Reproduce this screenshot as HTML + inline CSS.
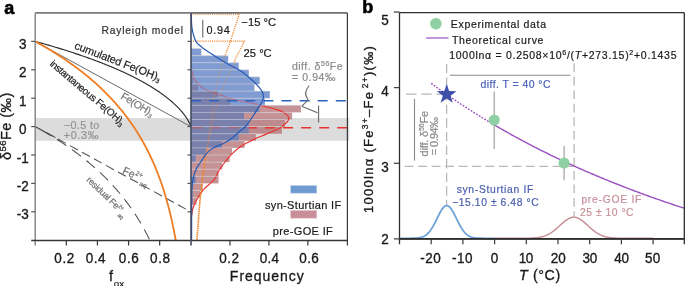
<!DOCTYPE html>
<html><head><meta charset="utf-8"><style>
html,body{margin:0;padding:0;background:#fff;}
svg{display:block;will-change:transform;}
text{font-family:"Liberation Sans", sans-serif;}
</style></head><body>
<svg width="685" height="286" viewBox="0 0 685 286" font-family='"Liberation Sans", sans-serif'>
<rect width="685" height="286" fill="#fff"/>
<rect x="35.2" y="118.08" width="314.00" height="22.72" fill="#dcdcdc"/>
<path d="M35.20,41.40 L190.80,126.60" stroke="#6a6a6a" stroke-width="1" fill="none"/>
<path d="M35.20,41.40 L35.98,41.61 L36.76,41.83 L37.53,42.04 L38.31,42.26 L39.09,42.47 L39.87,42.69 L40.65,42.91 L41.42,43.13 L42.20,43.35 L42.98,43.57 L43.76,43.79 L44.54,44.01 L45.31,44.23 L46.09,44.45 L46.87,44.68 L47.65,44.90 L48.43,45.13 L49.20,45.35 L49.98,45.58 L50.76,45.81 L51.54,46.04 L52.32,46.27 L53.09,46.50 L53.87,46.73 L54.65,46.96 L55.43,47.19 L56.21,47.43 L56.98,47.66 L57.76,47.90 L58.54,48.14 L59.32,48.37 L60.10,48.61 L60.87,48.85 L61.65,49.09 L62.43,49.33 L63.21,49.57 L63.99,49.82 L64.76,50.06 L65.54,50.31 L66.32,50.55 L67.10,50.80 L67.88,51.05 L68.65,51.30 L69.43,51.55 L70.21,51.80 L70.99,52.05 L71.77,52.30 L72.54,52.56 L73.32,52.81 L74.10,53.07 L74.88,53.33 L75.66,53.58 L76.43,53.84 L77.21,54.10 L77.99,54.37 L78.77,54.63 L79.55,54.89 L80.32,55.16 L81.10,55.43 L81.88,55.69 L82.66,55.96 L83.44,56.23 L84.21,56.50 L84.99,56.78 L85.77,57.05 L86.55,57.32 L87.33,57.60 L88.10,57.88 L88.88,58.16 L89.66,58.44 L90.44,58.72 L91.22,59.00 L91.99,59.29 L92.77,59.57 L93.55,59.86 L94.33,60.15 L95.11,60.44 L95.88,60.73 L96.66,61.02 L97.44,61.32 L98.22,61.61 L99.00,61.91 L99.77,62.21 L100.55,62.51 L101.33,62.81 L102.11,63.11 L102.89,63.42 L103.66,63.73 L104.44,64.04 L105.22,64.35 L106.00,64.66 L106.78,64.97 L107.55,65.29 L108.33,65.60 L109.11,65.92 L109.89,66.24 L110.67,66.57 L111.44,66.89 L112.22,67.22 L113.00,67.54 L113.78,67.87 L114.56,68.21 L115.33,68.54 L116.11,68.88 L116.89,69.21 L117.67,69.55 L118.45,69.90 L119.22,70.24 L120.00,70.59 L120.78,70.94 L121.56,71.29 L122.34,71.64 L123.11,72.00 L123.89,72.35 L124.67,72.72 L125.45,73.08 L126.23,73.44 L127.00,73.81 L127.78,74.18 L128.56,74.55 L129.34,74.93 L130.12,75.31 L130.89,75.69 L131.67,76.07 L132.45,76.46 L133.23,76.85 L134.01,77.24 L134.78,77.64 L135.56,78.04 L136.34,78.44 L137.12,78.84 L137.90,79.25 L138.67,79.66 L139.45,80.08 L140.23,80.49 L141.01,80.92 L141.79,81.34 L142.56,81.77 L143.34,82.20 L144.12,82.64 L144.90,83.08 L145.68,83.52 L146.45,83.97 L147.23,84.42 L148.01,84.88 L148.79,85.34 L149.57,85.81 L150.34,86.28 L151.12,86.75 L151.90,87.23 L152.68,87.71 L153.46,88.20 L154.23,88.70 L155.01,89.20 L155.79,89.70 L156.57,90.21 L157.35,90.73 L158.12,91.25 L158.90,91.78 L159.68,92.32 L160.46,92.86 L161.24,93.41 L162.01,93.97 L162.79,94.53 L163.57,95.10 L164.35,95.68 L165.13,96.26 L165.90,96.86 L166.68,97.46 L167.46,98.08 L168.24,98.70 L169.02,99.33 L169.79,99.97 L170.57,100.63 L171.35,101.29 L172.13,101.97 L172.91,102.65 L173.68,103.36 L174.46,104.07 L175.24,104.80 L176.02,105.55 L176.80,106.31 L177.57,107.09 L178.35,107.89 L179.13,108.71 L179.91,109.55 L180.69,110.41 L181.46,111.30 L182.24,112.22 L183.02,113.17 L183.80,114.15 L184.58,115.17 L185.35,116.24 L186.13,117.36 L186.91,118.54 L187.69,119.80 L188.47,121.15 L189.24,122.64 L190.02,124.33 L190.80,126.60" stroke="#2b2b2b" stroke-width="1.15" fill="none"/>
<path d="M35.20,126.60 L190.80,211.80" stroke="#505050" stroke-width="1.05" fill="none" stroke-dasharray="9,4.68" stroke-dashoffset="1.38"/>
<path d="M35.2,126.6 L55.7,137.6" stroke="#505050" stroke-width="0.9" fill="none"/>
<path d="M35.20,126.60 L35.82,126.94 L36.44,127.28 L37.07,127.63 L37.69,127.97 L38.31,128.32 L38.93,128.67 L39.56,129.02 L40.18,129.37 L40.80,129.72 L41.42,130.08 L42.05,130.43 L42.67,130.79 L43.29,131.15 L43.91,131.51 L44.54,131.87 L45.16,132.24 L45.78,132.60 L46.40,132.97 L47.03,133.33 L47.65,133.70 L48.27,134.08 L48.89,134.45 L49.52,134.82 L50.14,135.20 L50.76,135.58 L51.38,135.96 L52.00,136.34 L52.63,136.72 L53.25,137.11 L53.87,137.49 L54.49,137.88 L55.12,138.27 L55.74,138.66 L56.36,139.05 L56.98,139.45 L57.61,139.85 L58.23,140.25 L58.85,140.65 L59.47,141.05 L60.10,141.45 L60.72,141.86 L61.34,142.27 L61.96,142.68 L62.59,143.09 L63.21,143.51 L63.83,143.92 L64.45,144.34 L65.08,144.76 L65.70,145.19 L66.32,145.61 L66.94,146.04 L67.56,146.47 L68.19,146.90 L68.81,147.33 L69.43,147.77 L70.05,148.21 L70.68,148.65 L71.30,149.09 L71.92,149.53 L72.54,149.98 L73.17,150.43 L73.79,150.88 L74.41,151.34 L75.03,151.79 L75.66,152.25 L76.28,152.72 L76.90,153.18 L77.52,153.65 L78.15,154.12 L78.77,154.59 L79.39,155.06 L80.01,155.54 L80.64,156.02 L81.26,156.50 L81.88,156.99 L82.50,157.48 L83.12,157.97 L83.75,158.46 L84.37,158.96 L84.99,159.46 L85.61,159.96 L86.24,160.47 L86.86,160.98 L87.48,161.49 L88.10,162.00 L88.73,162.52 L89.35,163.04 L89.97,163.57 L90.59,164.09 L91.22,164.62 L91.84,165.16 L92.46,165.70 L93.08,166.24 L93.71,166.78 L94.33,167.33 L94.95,167.88 L95.57,168.44 L96.20,168.99 L96.82,169.56 L97.44,170.12 L98.06,170.69 L98.68,171.27 L99.31,171.84 L99.93,172.43 L100.55,173.01 L101.17,173.60 L101.80,174.19 L102.42,174.79 L103.04,175.39 L103.66,176.00 L104.29,176.61 L104.91,177.23 L105.53,177.85 L106.15,178.47 L106.78,179.10 L107.40,179.73 L108.02,180.37 L108.64,181.01 L109.27,181.66 L109.89,182.31 L110.51,182.97 L111.13,183.64 L111.76,184.30 L112.38,184.98 L113.00,185.66 L113.62,186.34 L114.24,187.03 L114.87,187.73 L115.49,188.43 L116.11,189.13 L116.73,189.85 L117.36,190.57 L117.98,191.29 L118.60,192.02 L119.22,192.76 L119.85,193.50 L120.47,194.26 L121.09,195.01 L121.71,195.78 L122.34,196.55 L122.96,197.33 L123.58,198.11 L124.20,198.90 L124.83,199.70 L125.45,200.51 L126.07,201.33 L126.69,202.15 L127.32,202.98 L127.94,203.82 L128.56,204.67 L129.18,205.52 L129.80,206.39 L130.43,207.26 L131.05,208.15 L131.67,209.04 L132.29,209.94 L132.92,210.85 L133.54,211.77 L134.16,212.70 L134.78,213.64 L135.41,214.60 L136.03,215.56 L136.65,216.53 L137.27,217.52 L137.90,218.51 L138.52,219.52 L139.14,220.54 L139.76,221.58 L140.39,222.62 L141.01,223.68 L141.63,224.75 L142.25,225.84 L142.88,226.94 L143.50,228.05 L144.12,229.18 L144.74,230.32 L145.36,231.48 L145.99,232.66 L146.61,233.85 L147.23,235.06 L147.85,236.28 L148.48,237.53 L149.10,238.79 L149.72,240.07 L149.78,240.20" stroke="#505050" stroke-width="1.05" fill="none" stroke-dasharray="11.2,6.9" stroke-dashoffset="10.9"/>
<path d="M35.20,41.40 L35.94,41.81 L36.68,42.21 L37.42,42.62 L38.16,43.03 L38.90,43.45 L39.63,43.86 L40.37,44.28 L41.11,44.70 L41.85,45.12 L42.59,45.55 L43.33,45.97 L44.07,46.40 L44.81,46.83 L45.55,47.26 L46.29,47.70 L47.03,48.13 L47.76,48.57 L48.50,49.01 L49.24,49.46 L49.98,49.90 L50.72,50.35 L51.46,50.80 L52.20,51.26 L52.94,51.71 L53.68,52.17 L54.42,52.63 L55.16,53.09 L55.89,53.56 L56.63,54.03 L57.37,54.50 L58.11,54.97 L58.85,55.45 L59.59,55.93 L60.33,56.41 L61.07,56.89 L61.81,57.38 L62.55,57.87 L63.29,58.36 L64.02,58.86 L64.76,59.35 L65.50,59.85 L66.24,60.36 L66.98,60.87 L67.72,61.38 L68.46,61.89 L69.20,62.41 L69.94,62.92 L70.68,63.45 L71.42,63.97 L72.16,64.50 L72.89,65.03 L73.63,65.57 L74.37,66.11 L75.11,66.65 L75.85,67.20 L76.59,67.75 L77.33,68.30 L78.07,68.86 L78.81,69.42 L79.55,69.98 L80.29,70.55 L81.02,71.12 L81.76,71.70 L82.50,72.28 L83.24,72.86 L83.98,73.45 L84.72,74.04 L85.46,74.64 L86.20,75.24 L86.94,75.84 L87.68,76.45 L88.42,77.06 L89.15,77.68 L89.89,78.30 L90.63,78.93 L91.37,79.56 L92.11,80.19 L92.85,80.83 L93.59,81.48 L94.33,82.13 L95.07,82.78 L95.81,83.44 L96.55,84.11 L97.28,84.78 L98.02,85.46 L98.76,86.14 L99.50,86.82 L100.24,87.52 L100.98,88.22 L101.72,88.92 L102.46,89.63 L103.20,90.35 L103.94,91.07 L104.68,91.80 L105.41,92.53 L106.15,93.27 L106.89,94.02 L107.63,94.77 L108.37,95.53 L109.11,96.30 L109.85,97.07 L110.59,97.86 L111.33,98.64 L112.07,99.44 L112.81,100.24 L113.54,101.05 L114.28,101.87 L115.02,102.70 L115.76,103.54 L116.50,104.38 L117.24,105.23 L117.98,106.09 L118.72,106.96 L119.46,107.84 L120.20,108.73 L120.94,109.62 L121.67,110.53 L122.41,111.44 L123.15,112.37 L123.89,113.31 L124.63,114.25 L125.37,115.21 L126.11,116.18 L126.85,117.16 L127.59,118.15 L128.33,119.15 L129.07,120.16 L129.80,121.19 L130.54,122.23 L131.28,123.28 L132.02,124.34 L132.76,125.42 L133.50,126.51 L134.24,127.62 L134.98,128.74 L135.72,129.88 L136.46,131.03 L137.20,132.19 L137.93,133.38 L138.67,134.58 L139.41,135.79 L140.15,137.03 L140.89,138.28 L141.63,139.55 L142.37,140.84 L143.11,142.15 L143.85,143.48 L144.59,144.83 L145.33,146.21 L146.06,147.60 L146.80,149.02 L147.54,150.47 L148.28,151.94 L149.02,153.43 L149.76,154.95 L150.50,156.50 L151.24,158.08 L151.98,159.68 L152.72,161.32 L153.46,162.99 L154.20,164.69 L154.93,166.43 L155.67,168.21 L156.41,170.02 L157.15,171.87 L157.89,173.76 L158.63,175.70 L159.37,177.68 L160.11,179.70 L160.85,181.78 L161.59,183.91 L162.33,186.09 L163.06,188.33 L163.80,190.63 L164.54,193.00 L165.28,195.43 L166.02,197.94 L166.76,200.52 L167.50,203.18 L168.24,205.92 L168.98,208.76 L169.72,211.70 L170.46,214.74 L171.19,217.89 L171.93,221.16 L172.67,224.57 L173.41,228.12 L174.15,231.82 L174.89,235.68 L175.63,239.74 L175.71,240.20" stroke="#f07d22" stroke-width="1.8" fill="none"/>
<path d="M35.2,12.9 H190.8" stroke="#7a7a7a" stroke-width="1.6" fill="none"/>
<path d="M35.2,12.9 V245.5" stroke="#8a8a8a" stroke-width="1.5" fill="none"/>
<path d="M31.200000000000003,240.5 H190.8" stroke="#353535" stroke-width="1.3" fill="none"/>
<path d="M31.200000000000003,41.40 H35.2" stroke="#555" stroke-width="1.2"/>
<path d="M31.200000000000003,69.80 H35.2" stroke="#555" stroke-width="1.2"/>
<path d="M31.200000000000003,98.20 H35.2" stroke="#555" stroke-width="1.2"/>
<path d="M31.200000000000003,126.60 H35.2" stroke="#555" stroke-width="1.2"/>
<path d="M31.200000000000003,155.00 H35.2" stroke="#555" stroke-width="1.2"/>
<path d="M31.200000000000003,183.40 H35.2" stroke="#555" stroke-width="1.2"/>
<path d="M31.200000000000003,211.80 H35.2" stroke="#555" stroke-width="1.2"/>
<path d="M66.32,240.5 V245.5" stroke="#353535" stroke-width="1.2"/>
<path d="M97.44,240.5 V245.5" stroke="#353535" stroke-width="1.2"/>
<path d="M128.56,240.5 V245.5" stroke="#353535" stroke-width="1.2"/>
<path d="M159.68,240.5 V245.5" stroke="#353535" stroke-width="1.2"/>
<g opacity="0.78"><rect x="191.0" y="76.90" width="2.30" height="7.10" fill="#b57579"/><rect x="191.0" y="84.00" width="7.00" height="7.10" fill="#b57579"/><rect x="191.0" y="91.10" width="27.00" height="7.10" fill="#b57579"/><rect x="191.0" y="98.20" width="39.20" height="7.10" fill="#b57579"/><rect x="191.0" y="105.30" width="109.90" height="7.10" fill="#b57579"/><rect x="191.0" y="112.40" width="101.10" height="7.10" fill="#b57579"/><rect x="191.0" y="119.50" width="94.20" height="7.10" fill="#b57579"/><rect x="191.0" y="126.60" width="91.00" height="7.10" fill="#b57579"/><rect x="191.0" y="133.70" width="64.80" height="7.10" fill="#b57579"/><rect x="191.0" y="140.80" width="53.60" height="7.10" fill="#b57579"/><rect x="191.0" y="147.90" width="41.00" height="7.10" fill="#b57579"/><rect x="191.0" y="155.00" width="38.60" height="7.10" fill="#b57579"/><rect x="191.0" y="162.10" width="31.30" height="7.10" fill="#b57579"/><rect x="191.0" y="169.20" width="27.60" height="7.10" fill="#b57579"/><rect x="191.0" y="176.30" width="27.60" height="7.10" fill="#b57579"/><rect x="191.0" y="183.40" width="11.70" height="7.10" fill="#b57579"/><rect x="191.0" y="190.50" width="9.20" height="7.10" fill="#b57579"/><rect x="191.0" y="197.60" width="5.50" height="7.10" fill="#b57579"/></g>
<g opacity="1.0">
<path d="M191.80,70.00 C191.87,70.33 191.90,70.73 192.20,72.00 C192.50,73.27 192.90,75.97 193.60,77.60 C194.30,79.23 195.00,80.17 196.40,81.80 C197.80,83.43 199.90,85.88 202.00,87.40 C204.10,88.92 206.67,89.85 209.00,90.90 C211.33,91.95 213.67,92.88 216.00,93.70 C218.33,94.52 221.00,95.10 223.00,95.80 C225.00,96.50 225.17,97.07 228.00,97.90 C230.83,98.73 235.72,99.85 240.00,100.80 C244.28,101.75 249.95,102.75 253.70,103.60 C257.45,104.45 259.58,105.17 262.50,105.90 C265.42,106.63 268.28,107.22 271.20,108.00 C274.12,108.78 277.52,109.58 280.00,110.60 C282.48,111.62 284.65,112.93 286.10,114.10 C287.55,115.27 288.42,116.43 288.70,117.60 C288.98,118.77 288.53,119.93 287.80,121.10 C287.07,122.27 285.60,123.43 284.30,124.60 C283.00,125.77 281.55,127.17 280.00,128.10 C278.45,129.03 277.47,129.12 275.00,130.20 C272.53,131.28 268.28,133.28 265.20,134.60 C262.12,135.92 259.42,136.78 256.50,138.10 C253.58,139.42 250.62,140.90 247.70,142.50 C244.78,144.10 241.62,145.82 239.00,147.70 C236.38,149.58 234.00,151.83 232.00,153.80 C230.00,155.77 228.53,157.63 227.00,159.50 C225.47,161.37 224.20,163.03 222.80,165.00 C221.40,166.97 219.92,169.03 218.60,171.30 C217.28,173.57 216.38,176.50 214.90,178.60 C213.42,180.70 211.45,182.23 209.70,183.90 C207.95,185.57 205.92,186.98 204.40,188.60 C202.88,190.22 201.77,191.95 200.60,193.60 C199.43,195.25 198.40,196.77 197.40,198.50 C196.40,200.23 195.40,202.17 194.60,204.00 C193.80,205.83 193.10,207.50 192.60,209.50 C192.10,211.50 191.77,214.92 191.60,216.00" stroke="#e8302c" stroke-width="1.15" fill="none"/>
<path d="M191.0,127.8 H347.4" stroke="#e8302c" stroke-width="1.5" stroke-dasharray="10,8.1" stroke-dashoffset="-1.5"/>
<path d="M191.00,14.00 H239.30 L239.30,14.00 C238.43,16.67 235.57,25.50 234.10,30.00 C232.63,34.50 231.65,37.67 230.50,41.00 C229.35,44.33 228.42,46.83 227.20,50.00 C225.98,53.17 224.73,55.00 223.20,60.00 C221.67,65.00 219.60,73.33 218.00,80.00 C216.40,86.67 214.83,93.33 213.60,100.00 C212.37,106.67 211.48,113.33 210.60,120.00 C209.72,126.67 209.18,133.83 208.30,140.00 C207.42,146.17 206.23,151.17 205.30,157.00 C204.37,162.83 203.45,169.38 202.70,175.00 C201.95,180.62 201.37,185.70 200.80,190.70 C200.23,195.70 199.80,199.28 199.30,205.00 C198.80,210.72 198.25,219.17 197.80,225.00 C197.35,230.83 196.80,237.50 196.60,240.00" stroke="#f0842c" stroke-width="1.3" fill="none" stroke-dasharray="1.1,1.0"/>
<path d="M191.00,41.20 H244.40 L244.40,41.20 C243.58,42.83 241.02,48.03 239.50,51.00 C237.98,53.97 236.32,56.67 235.30,59.00 C234.28,61.33 234.95,61.50 233.40,65.00 C231.85,68.50 228.48,74.17 226.00,80.00 C223.52,85.83 220.70,93.33 218.50,100.00 C216.30,106.67 214.38,113.33 212.80,120.00 C211.22,126.67 210.17,133.83 209.00,140.00 C207.83,146.17 206.75,151.17 205.80,157.00 C204.85,162.83 204.03,169.38 203.30,175.00 C202.57,180.62 201.97,185.70 201.40,190.70 C200.83,195.70 200.40,199.28 199.90,205.00 C199.40,210.72 198.85,219.17 198.40,225.00 C197.95,230.83 197.40,237.50 197.20,240.00" stroke="#f0842c" stroke-width="1.3" fill="none" stroke-dasharray="1.1,1.0"/>
</g>
<defs><clipPath id="bclip"><rect x="191.0" y="48.50" width="10.30" height="7.10"/><rect x="191.0" y="55.60" width="37.20" height="7.10"/><rect x="191.0" y="62.70" width="47.70" height="7.10"/><rect x="191.0" y="69.80" width="57.80" height="7.10"/><rect x="191.0" y="76.90" width="68.70" height="7.10"/><rect x="191.0" y="84.00" width="63.40" height="7.10"/><rect x="191.0" y="91.10" width="78.80" height="7.10"/><rect x="191.0" y="98.20" width="73.90" height="7.10"/><rect x="191.0" y="105.30" width="68.30" height="7.10"/><rect x="191.0" y="112.40" width="53.00" height="7.10"/><rect x="191.0" y="119.50" width="57.80" height="7.10"/><rect x="191.0" y="126.60" width="57.80" height="7.10"/><rect x="191.0" y="133.70" width="47.70" height="7.10"/><rect x="191.0" y="140.80" width="31.00" height="7.10"/><rect x="191.0" y="147.90" width="15.20" height="7.10"/><rect x="191.0" y="155.00" width="4.60" height="7.10"/><rect x="191.0" y="176.30" width="4.60" height="7.10"/></clipPath></defs>
<rect x="191.0" y="48.50" width="10.30" height="7.10" fill="#809cd2"/><rect x="191.0" y="55.60" width="37.20" height="7.10" fill="#809cd2"/><rect x="191.0" y="62.70" width="47.70" height="7.10" fill="#809cd2"/><rect x="191.0" y="69.80" width="57.80" height="7.10" fill="#809cd2"/><rect x="191.0" y="76.90" width="68.70" height="7.10" fill="#809cd2"/><rect x="191.0" y="76.90" width="2.30" height="7.10" fill="#7a80ac"/><rect x="191.0" y="84.00" width="63.40" height="7.10" fill="#809cd2"/><rect x="191.0" y="84.00" width="7.00" height="7.10" fill="#7a80ac"/><rect x="191.0" y="91.10" width="78.80" height="7.10" fill="#809cd2"/><rect x="191.0" y="91.10" width="27.00" height="7.10" fill="#7a80ac"/><rect x="191.0" y="98.20" width="73.90" height="7.10" fill="#809cd2"/><rect x="191.0" y="98.20" width="39.20" height="7.10" fill="#7a80ac"/><rect x="191.0" y="105.30" width="68.30" height="7.10" fill="#809cd2"/><rect x="191.0" y="105.30" width="68.30" height="7.10" fill="#7a80ac"/><rect x="191.0" y="112.40" width="53.00" height="7.10" fill="#809cd2"/><rect x="191.0" y="112.40" width="53.00" height="7.10" fill="#7a80ac"/><rect x="191.0" y="119.50" width="57.80" height="7.10" fill="#809cd2"/><rect x="191.0" y="119.50" width="57.80" height="7.10" fill="#7a80ac"/><rect x="191.0" y="126.60" width="57.80" height="7.10" fill="#809cd2"/><rect x="191.0" y="126.60" width="57.80" height="7.10" fill="#7a80ac"/><rect x="191.0" y="133.70" width="47.70" height="7.10" fill="#809cd2"/><rect x="191.0" y="133.70" width="47.70" height="7.10" fill="#7a80ac"/><rect x="191.0" y="140.80" width="31.00" height="7.10" fill="#809cd2"/><rect x="191.0" y="140.80" width="31.00" height="7.10" fill="#7a80ac"/><rect x="191.0" y="147.90" width="15.20" height="7.10" fill="#809cd2"/><rect x="191.0" y="147.90" width="15.20" height="7.10" fill="#7a80ac"/><rect x="191.0" y="155.00" width="4.60" height="7.10" fill="#809cd2"/><rect x="191.0" y="155.00" width="4.60" height="7.10" fill="#7a80ac"/><rect x="191.0" y="176.30" width="4.60" height="7.10" fill="#809cd2"/><rect x="191.0" y="176.30" width="4.60" height="7.10" fill="#7a80ac"/>
<g opacity="0.42" clip-path="url(#bclip)">
<path d="M191.80,70.00 C191.87,70.33 191.90,70.73 192.20,72.00 C192.50,73.27 192.90,75.97 193.60,77.60 C194.30,79.23 195.00,80.17 196.40,81.80 C197.80,83.43 199.90,85.88 202.00,87.40 C204.10,88.92 206.67,89.85 209.00,90.90 C211.33,91.95 213.67,92.88 216.00,93.70 C218.33,94.52 221.00,95.10 223.00,95.80 C225.00,96.50 225.17,97.07 228.00,97.90 C230.83,98.73 235.72,99.85 240.00,100.80 C244.28,101.75 249.95,102.75 253.70,103.60 C257.45,104.45 259.58,105.17 262.50,105.90 C265.42,106.63 268.28,107.22 271.20,108.00 C274.12,108.78 277.52,109.58 280.00,110.60 C282.48,111.62 284.65,112.93 286.10,114.10 C287.55,115.27 288.42,116.43 288.70,117.60 C288.98,118.77 288.53,119.93 287.80,121.10 C287.07,122.27 285.60,123.43 284.30,124.60 C283.00,125.77 281.55,127.17 280.00,128.10 C278.45,129.03 277.47,129.12 275.00,130.20 C272.53,131.28 268.28,133.28 265.20,134.60 C262.12,135.92 259.42,136.78 256.50,138.10 C253.58,139.42 250.62,140.90 247.70,142.50 C244.78,144.10 241.62,145.82 239.00,147.70 C236.38,149.58 234.00,151.83 232.00,153.80 C230.00,155.77 228.53,157.63 227.00,159.50 C225.47,161.37 224.20,163.03 222.80,165.00 C221.40,166.97 219.92,169.03 218.60,171.30 C217.28,173.57 216.38,176.50 214.90,178.60 C213.42,180.70 211.45,182.23 209.70,183.90 C207.95,185.57 205.92,186.98 204.40,188.60 C202.88,190.22 201.77,191.95 200.60,193.60 C199.43,195.25 198.40,196.77 197.40,198.50 C196.40,200.23 195.40,202.17 194.60,204.00 C193.80,205.83 193.10,207.50 192.60,209.50 C192.10,211.50 191.77,214.92 191.60,216.00" stroke="#e8302c" stroke-width="1.15" fill="none"/>
<path d="M191.0,127.8 H347.4" stroke="#e8302c" stroke-width="1.5" stroke-dasharray="10,8.1" stroke-dashoffset="-1.5"/>
<path d="M191.00,14.00 H239.30 L239.30,14.00 C238.43,16.67 235.57,25.50 234.10,30.00 C232.63,34.50 231.65,37.67 230.50,41.00 C229.35,44.33 228.42,46.83 227.20,50.00 C225.98,53.17 224.73,55.00 223.20,60.00 C221.67,65.00 219.60,73.33 218.00,80.00 C216.40,86.67 214.83,93.33 213.60,100.00 C212.37,106.67 211.48,113.33 210.60,120.00 C209.72,126.67 209.18,133.83 208.30,140.00 C207.42,146.17 206.23,151.17 205.30,157.00 C204.37,162.83 203.45,169.38 202.70,175.00 C201.95,180.62 201.37,185.70 200.80,190.70 C200.23,195.70 199.80,199.28 199.30,205.00 C198.80,210.72 198.25,219.17 197.80,225.00 C197.35,230.83 196.80,237.50 196.60,240.00" stroke="#f0842c" stroke-width="1.3" fill="none" stroke-dasharray="1.1,1.0"/>
<path d="M191.00,41.20 H244.40 L244.40,41.20 C243.58,42.83 241.02,48.03 239.50,51.00 C237.98,53.97 236.32,56.67 235.30,59.00 C234.28,61.33 234.95,61.50 233.40,65.00 C231.85,68.50 228.48,74.17 226.00,80.00 C223.52,85.83 220.70,93.33 218.50,100.00 C216.30,106.67 214.38,113.33 212.80,120.00 C211.22,126.67 210.17,133.83 209.00,140.00 C207.83,146.17 206.75,151.17 205.80,157.00 C204.85,162.83 204.03,169.38 203.30,175.00 C202.57,180.62 201.97,185.70 201.40,190.70 C200.83,195.70 200.40,199.28 199.90,205.00 C199.40,210.72 198.85,219.17 198.40,225.00 C197.95,230.83 197.40,237.50 197.20,240.00" stroke="#f0842c" stroke-width="1.3" fill="none" stroke-dasharray="1.1,1.0"/>
</g>
<path d="M191.0,48.50 H201.30 M191.0,55.60 H228.20 M191.0,62.70 H238.70 M191.0,69.80 H248.80 M191.0,76.90 H259.70 M191.0,84.00 H254.40 M191.0,91.10 H269.80 M191.0,98.20 H264.90 M191.0,105.30 H300.90 M191.0,112.40 H292.10 M191.0,119.50 H285.20 M191.0,126.60 H282.00 M191.0,133.70 H255.80 M191.0,140.80 H244.60 M191.0,147.90 H232.00 M191.0,155.00 H229.60 M191.0,162.10 H222.30 M191.0,169.20 H218.60 M191.0,176.30 H218.60 M191.0,183.40 H202.70 M191.0,190.50 H200.20 M191.0,197.60 H196.50" stroke="#d4d4dc" stroke-opacity="0.55" stroke-width="1"/>
<path d="M191.40,14.00 C191.42,15.33 191.40,19.67 191.50,22.00 C191.60,24.33 191.67,25.83 192.00,28.00 C192.33,30.17 192.77,32.65 193.50,35.00 C194.23,37.35 194.75,39.87 196.40,42.10 C198.05,44.33 200.83,46.42 203.40,48.40 C205.97,50.38 209.00,52.13 211.80,54.00 C214.60,55.87 217.40,57.85 220.20,59.60 C223.00,61.35 225.23,62.63 228.60,64.50 C231.97,66.37 236.50,68.22 240.40,70.80 C244.30,73.38 249.05,77.45 252.00,80.00 C254.95,82.55 256.35,84.07 258.10,86.10 C259.85,88.13 261.62,90.30 262.50,92.20 C263.38,94.10 263.55,95.75 263.40,97.50 C263.25,99.25 262.48,100.95 261.60,102.70 C260.72,104.45 259.42,105.95 258.10,108.00 C256.78,110.05 255.15,112.75 253.70,115.00 C252.25,117.25 250.85,119.50 249.40,121.50 C247.95,123.50 246.73,125.25 245.00,127.00 C243.27,128.75 241.17,130.15 239.00,132.00 C236.83,133.85 234.33,136.30 232.00,138.10 C229.67,139.90 227.92,141.27 225.00,142.80 C222.08,144.33 217.27,145.83 214.50,147.30 C211.73,148.77 210.03,150.17 208.40,151.60 C206.77,153.03 205.77,154.47 204.70,155.90 C203.63,157.33 203.03,158.67 202.00,160.20 C200.97,161.73 199.50,163.57 198.50,165.10 C197.50,166.63 196.75,167.75 196.00,169.40 C195.25,171.05 194.57,172.90 194.00,175.00 C193.43,177.10 192.97,178.67 192.60,182.00 C192.23,185.33 191.97,185.33 191.80,195.00 C191.63,204.67 191.63,232.50 191.60,240.00" stroke="#2558b5" stroke-width="1.2" fill="none"/>
<path d="M191.0,100.8 H347.4" stroke="#2b62c0" stroke-width="1.6" stroke-dasharray="10,8.1"/>
<path d="M191.0,12.9 H347.4" stroke="#707070" stroke-width="1.6" fill="none"/>
<path d="M347.4,12.9 V245.5" stroke="#3a3a3a" stroke-width="1.2" fill="none"/>
<path d="M191.0,240.5 H347.4" stroke="#353535" stroke-width="1.3" fill="none"/>
<path d="M191.0,12.9 V245.5" stroke="#454c60" stroke-width="1.6" fill="none"/>
<path d="M187.5,41.40 H191.0" stroke="#555" stroke-width="1.2"/>
<path d="M187.5,69.80 H191.0" stroke="#555" stroke-width="1.2"/>
<path d="M187.5,98.20 H191.0" stroke="#555" stroke-width="1.2"/>
<path d="M187.5,126.60 H191.0" stroke="#555" stroke-width="1.2"/>
<path d="M187.5,155.00 H191.0" stroke="#555" stroke-width="1.2"/>
<path d="M187.5,183.40 H191.0" stroke="#555" stroke-width="1.2"/>
<path d="M187.5,211.80 H191.0" stroke="#555" stroke-width="1.2"/>
<path d="M229.96,240.5 V245.5" stroke="#353535" stroke-width="1.2"/>
<path d="M268.92,240.5 V245.5" stroke="#353535" stroke-width="1.2"/>
<path d="M307.88,240.5 V245.5" stroke="#353535" stroke-width="1.2"/>
<path d="M202.8,20 V37.5" stroke="#555" stroke-width="1"/>
<path d="M309.2,85.5 C305.5,90 304.5,95 307.5,98.5 C309.5,101 303,103.5 302.2,106.4 L317.5,112.8 M318.6,105.4 V122.4" stroke="#666" stroke-width="1.1" fill="none"/>
<rect x="290.6" y="185.4" width="26.2" height="7.8" fill="#6f9bd3" stroke="#c8d6ee" stroke-width="0.6"/>
<rect x="290.6" y="210.4" width="26.2" height="7.8" fill="#c98e9a" stroke="#e6cbd0" stroke-width="0.6"/>
<path d="M406.1,94.2 H446.5" stroke="#b8b8b8" stroke-width="1.3" stroke-dasharray="10.4,4.8"/>
<path d="M404.8,166.4 H574" stroke="#b8b8b8" stroke-width="1.3" stroke-dasharray="8.8,4.65"/>
<path d="M446.6,63.9 V205" stroke="#b8b8b8" stroke-width="1.3" stroke-dasharray="9.4,4.2"/>
<path d="M574.1,63.4 V216.5" stroke="#b8b8b8" stroke-width="1.3" stroke-dasharray="8.8,4.65"/>
<path d="M450,75.2 H570.4" stroke="#888" stroke-width="1.1"/>
<path d="M414.5,98.8 V160.6" stroke="#888" stroke-width="1.1"/>
<path d="M494.2,91.6 V149" stroke="#a0a0a0" stroke-width="1.2"/>
<path d="M564.1,145.9 V180.2" stroke="#a0a0a0" stroke-width="1.2"/>
<path d="M431.20,83.32 L432.79,84.49 L434.37,85.65 L435.96,86.80 L437.54,87.95 L439.12,89.09 L440.71,90.22 L442.30,91.34 L443.88,92.46 L445.47,93.57 L447.05,94.68 L448.64,95.78 L450.22,96.87 L451.81,97.96 L453.39,99.04 L454.98,100.11 L456.56,101.18 L458.15,102.24 L459.73,103.30 L461.32,104.35 L462.90,105.39 L464.49,106.43 L466.07,107.46 L467.66,108.49 L469.24,109.51 L470.83,110.52 L472.41,111.53 L474.00,112.54 L475.58,113.53 L477.17,114.53 L478.75,115.51 L480.34,116.49 L481.92,117.47 L483.50,118.44 L485.09,119.40 L486.68,120.36 L488.26,121.32 L489.85,122.27 L491.43,123.21 L493.02,124.15 L494.60,125.08" stroke="#9b4fc0" stroke-width="1.4" fill="none" stroke-dasharray="1.8,1.4"/>
<path d="M494.60,125.08 L496.19,126.01 L497.77,126.93 L499.36,127.85 L500.94,128.76 L502.53,129.67 L504.11,130.58 L505.70,131.47 L507.28,132.37 L508.87,133.26 L510.45,134.14 L512.03,135.02 L513.62,135.89 L515.21,136.76 L516.79,137.63 L518.38,138.49 L519.96,139.34 L521.55,140.19 L523.13,141.04 L524.72,141.88 L526.30,142.72 L527.88,143.55 L529.47,144.38 L531.06,145.21 L532.64,146.03 L534.23,146.84 L535.81,147.66 L537.39,148.46 L538.98,149.27 L540.57,150.07 L542.15,150.86 L543.74,151.65 L545.32,152.44 L546.90,153.22 L548.49,154.00 L550.08,154.77 L551.66,155.54 L553.25,156.31 L554.83,157.07 L556.41,157.83 L558.00,158.59 L559.59,159.34 L561.17,160.09 L562.75,160.83 L564.34,161.57 L565.93,162.30 L567.51,163.04 L569.10,163.76 L570.68,164.49 L572.26,165.21 L573.85,165.93 L575.44,166.64 L577.02,167.35 L578.61,168.06 L580.19,168.76 L581.77,169.46 L583.36,170.16 L584.95,170.85 L586.53,171.54 L588.12,172.23 L589.70,172.91 L591.29,173.59 L592.87,174.26 L594.46,174.94 L596.04,175.61 L597.62,176.27 L599.21,176.93 L600.80,177.59 L602.38,178.25 L603.97,178.90 L605.55,179.55 L607.13,180.20 L608.72,180.84 L610.31,181.48 L611.89,182.12 L613.48,182.75 L615.06,183.39 L616.64,184.01 L618.23,184.64 L619.82,185.26 L621.40,185.88 L622.99,186.50 L624.57,187.11 L626.15,187.72 L627.74,188.33 L629.33,188.93 L630.91,189.53 L632.50,190.13 L634.08,190.73 L635.66,191.32 L637.25,191.91 L638.84,192.50 L640.42,193.08 L642.00,193.67 L643.59,194.25 L645.17,194.82 L646.76,195.40 L648.35,195.97 L649.93,196.54 L651.51,197.10 L653.10,197.67 L654.69,198.23 L656.27,198.79 L657.86,199.34 L659.44,199.89 L661.02,200.44 L662.61,200.99 L664.20,201.54 L665.78,202.08 L667.37,202.62 L668.95,203.16 L670.54,203.70 L672.12,204.23 L673.71,204.76 L675.29,205.29 L676.88,205.81 L678.46,206.34 L680.05,206.86 L681.63,207.38 L683.22,207.89 L684.80,208.41" stroke="#9b4fc0" stroke-width="1.4" fill="none"/>
<circle cx="494.2" cy="120" r="5.6" fill="#8fd0a4"/>
<circle cx="564.1" cy="163" r="5.6" fill="#8fd0a4"/>
<path d="M446.70,84.10 L449.11,91.08 L456.50,91.22 L450.60,95.67 L452.75,102.73 L446.70,98.50 L440.65,102.73 L442.80,95.67 L436.90,91.22 L444.29,91.08Z" fill="#3d4fa8"/>
<path d="M399.50,238.30 L400.29,238.30 L401.09,238.30 L401.88,238.30 L402.67,238.30 L403.46,238.30 L404.25,238.30 L405.05,238.30 L405.84,238.30 L406.63,238.29 L407.43,238.29 L408.22,238.29 L409.01,238.28 L409.80,238.28 L410.60,238.27 L411.39,238.26 L412.18,238.24 L412.97,238.23 L413.77,238.20 L414.56,238.17 L415.35,238.13 L416.14,238.08 L416.94,238.02 L417.73,237.94 L418.52,237.84 L419.31,237.71 L420.11,237.56 L420.90,237.38 L421.69,237.16 L422.48,236.89 L423.28,236.58 L424.07,236.20 L424.86,235.77 L425.65,235.26 L426.45,234.68 L427.24,234.02 L428.03,233.27 L428.82,232.42 L429.62,231.48 L430.41,230.44 L431.20,229.30 L431.99,228.07 L432.79,226.75 L433.58,225.34 L434.37,223.86 L435.16,222.32 L435.96,220.73 L436.75,219.12 L437.54,217.49 L438.33,215.88 L439.12,214.31 L439.92,212.79 L440.71,211.37 L441.50,210.05 L442.30,208.87 L443.09,207.84 L443.88,206.99 L444.67,206.33 L445.47,205.88 L446.26,205.64 L447.05,205.62 L447.84,205.81 L448.64,206.23 L449.43,206.85 L450.22,207.66 L451.01,208.65 L451.81,209.80 L452.60,211.09 L453.39,212.50 L454.18,214.00 L454.98,215.56 L455.77,217.17 L456.56,218.79 L457.35,220.41 L458.15,222.01 L458.94,223.56 L459.73,225.05 L460.52,226.47 L461.32,227.81 L462.11,229.06 L462.90,230.22 L463.69,231.28 L464.49,232.24 L465.28,233.10 L466.07,233.87 L466.86,234.56 L467.66,235.15 L468.45,235.67 L469.24,236.12 L470.03,236.51 L470.83,236.83 L471.62,237.11 L472.41,237.34 L473.20,237.53 L474.00,237.69 L474.79,237.81 L475.58,237.92 L476.37,238.00 L477.17,238.07 L477.96,238.12 L478.75,238.16 L479.54,238.20 L480.34,238.22 L481.13,238.24 L481.92,238.26 L482.71,238.27 L483.50,238.28 L484.30,238.28 L485.09,238.29 L485.88,238.29 L486.68,238.29 L487.47,238.30 L488.26,238.30 L489.05,238.30 L489.85,238.30 L490.64,238.30 L491.43,238.30 L492.22,238.30 L493.02,238.30 L493.81,238.30 L494.60,238.30" stroke="#6fa2d8" stroke-width="1.8" fill="none"/>
<path d="M494.60,238.30 L495.39,238.30 L496.19,238.30 L496.98,238.30 L497.77,238.30 L498.56,238.30 L499.36,238.30 L500.15,238.30 L500.94,238.30 L501.73,238.30 L502.53,238.30 L503.32,238.30 L504.11,238.30 L504.90,238.30 L505.70,238.30 L506.49,238.30 L507.28,238.30 L508.07,238.30 L508.87,238.30 L509.66,238.30 L510.45,238.30 L511.24,238.30 L512.03,238.30 L512.83,238.30 L513.62,238.30 L514.41,238.30 L515.21,238.30 L516.00,238.30 L516.79,238.30 L517.58,238.29 L518.38,238.29 L519.17,238.29 L519.96,238.29 L520.75,238.28 L521.55,238.28 L522.34,238.28 L523.13,238.27 L523.92,238.27 L524.72,238.26 L525.51,238.25 L526.30,238.24 L527.09,238.22 L527.88,238.21 L528.68,238.19 L529.47,238.17 L530.26,238.14 L531.06,238.11 L531.85,238.07 L532.64,238.03 L533.43,237.98 L534.23,237.93 L535.02,237.86 L535.81,237.79 L536.60,237.70 L537.39,237.61 L538.19,237.50 L538.98,237.37 L539.77,237.23 L540.57,237.08 L541.36,236.90 L542.15,236.71 L542.94,236.49 L543.74,236.25 L544.53,235.98 L545.32,235.70 L546.11,235.38 L546.90,235.03 L547.70,234.66 L548.49,234.26 L549.28,233.83 L550.08,233.36 L550.87,232.87 L551.66,232.35 L552.45,231.80 L553.25,231.21 L554.04,230.61 L554.83,229.97 L555.62,229.32 L556.41,228.64 L557.21,227.95 L558.00,227.24 L558.79,226.52 L559.59,225.79 L560.38,225.07 L561.17,224.34 L561.96,223.63 L562.75,222.92 L563.55,222.24 L564.34,221.58 L565.13,220.94 L565.93,220.35 L566.72,219.79 L567.51,219.27 L568.30,218.80 L569.10,218.39 L569.89,218.03 L570.68,217.74 L571.47,217.50 L572.26,217.34 L573.06,217.23 L573.85,217.20 L574.64,217.23 L575.44,217.34 L576.23,217.50 L577.02,217.74 L577.81,218.03 L578.61,218.39 L579.40,218.80 L580.19,219.27 L580.98,219.79 L581.77,220.35 L582.57,220.94 L583.36,221.58 L584.15,222.24 L584.95,222.92 L585.74,223.63 L586.53,224.34 L587.32,225.07 L588.12,225.79 L588.91,226.52 L589.70,227.24 L590.49,227.95 L591.29,228.64 L592.08,229.32 L592.87,229.97 L593.66,230.61 L594.46,231.21 L595.25,231.80 L596.04,232.35 L596.83,232.87 L597.62,233.36 L598.42,233.83 L599.21,234.26 L600.00,234.66 L600.80,235.03 L601.59,235.38 L602.38,235.70 L603.17,235.98 L603.97,236.25 L604.76,236.49 L605.55,236.71 L606.34,236.90 L607.13,237.08 L607.93,237.23 L608.72,237.37 L609.51,237.50 L610.31,237.61 L611.10,237.70 L611.89,237.79 L612.68,237.86 L613.48,237.93 L614.27,237.98 L615.06,238.03 L615.85,238.07 L616.64,238.11 L617.44,238.14 L618.23,238.17 L619.02,238.19 L619.82,238.21 L620.61,238.22 L621.40,238.24 L622.19,238.25 L622.99,238.26 L623.78,238.27 L624.57,238.27 L625.36,238.28 L626.15,238.28 L626.95,238.28 L627.74,238.29 L628.53,238.29 L629.33,238.29 L630.12,238.29 L630.91,238.30 L631.70,238.30 L632.50,238.30 L633.29,238.30 L634.08,238.30 L634.87,238.30 L635.66,238.30 L636.46,238.30 L637.25,238.30 L638.04,238.30 L638.84,238.30 L639.63,238.30 L640.42,238.30 L641.21,238.30 L642.00,238.30 L642.80,238.30 L643.59,238.30 L644.38,238.30 L645.17,238.30 L645.97,238.30 L646.76,238.30 L647.55,238.30 L648.35,238.30 L649.14,238.30 L649.93,238.30 L650.72,238.30 L651.51,238.30 L652.31,238.30 L653.10,238.30" stroke="#c98f98" stroke-width="1.5" fill="none"/>
<circle cx="435.9" cy="23.7" r="5.8" fill="#8fd0a4"/>
<path d="M426.1,38 H448.5" stroke="#9b4fc0" stroke-width="1.2"/>
<path d="M399.50,12.6 H684.3 M399.50,12.6 V244.3 M684.3,12.6 V244.3 M399.50,238.8 H684.3" stroke="#2e2e2e" stroke-width="1.3" fill="none"/>
<path d="M399.50,238.8 H684.3" stroke="#2e2e2e" stroke-width="1.8" fill="none"/>
<path d="M393.90,238.90 H399.50" stroke="#3a3a3a" stroke-width="1.2"/>
<path d="M393.90,163.27 H399.50" stroke="#3a3a3a" stroke-width="1.2"/>
<path d="M393.90,87.64 H399.50" stroke="#3a3a3a" stroke-width="1.2"/>
<path d="M393.90,12.01 H399.50" stroke="#3a3a3a" stroke-width="1.2"/>
<path d="M431.20,238.8 V244.3" stroke="#3a3a3a" stroke-width="1.2"/>
<path d="M462.90,238.8 V244.3" stroke="#3a3a3a" stroke-width="1.2"/>
<path d="M494.60,238.8 V244.3" stroke="#3a3a3a" stroke-width="1.2"/>
<path d="M526.30,238.8 V244.3" stroke="#3a3a3a" stroke-width="1.2"/>
<path d="M558.00,238.8 V244.3" stroke="#3a3a3a" stroke-width="1.2"/>
<path d="M589.70,238.8 V244.3" stroke="#3a3a3a" stroke-width="1.2"/>
<path d="M621.40,238.8 V244.3" stroke="#3a3a3a" stroke-width="1.2"/>
<path d="M653.10,238.8 V244.3" stroke="#3a3a3a" stroke-width="1.2"/>
<text x="4.30" y="13.50" font-size="18" fill="#000" textLength="10.012" lengthAdjust="spacing" font-weight="bold" stroke="#000" stroke-width="0.6" >a</text>
<text x="362.18" y="12.50" font-size="18" fill="#000" textLength="10.996" lengthAdjust="spacing" font-weight="bold" stroke="#000" stroke-width="0.6" >b</text>
<text stroke="#1a1a1a" stroke-width="0.32" x="22.8" y="49.10" font-size="13.5" text-anchor="middle" fill="#1a1a1a" transform="translate(0 49.10) scale(1 1.08) translate(0 -49.10)">3</text>
<text stroke="#1a1a1a" stroke-width="0.32" x="22.8" y="77.50" font-size="13.5" text-anchor="middle" fill="#1a1a1a" transform="translate(0 77.50) scale(1 1.08) translate(0 -77.50)">2</text>
<text stroke="#1a1a1a" stroke-width="0.32" x="22.8" y="105.90" font-size="13.5" text-anchor="middle" fill="#1a1a1a" transform="translate(0 105.90) scale(1 1.08) translate(0 -105.90)">1</text>
<text stroke="#1a1a1a" stroke-width="0.32" x="22.8" y="134.30" font-size="13.5" text-anchor="middle" fill="#1a1a1a" transform="translate(0 134.30) scale(1 1.08) translate(0 -134.30)">0</text>
<text stroke="#1a1a1a" stroke-width="0.32" x="22.8" y="162.70" font-size="13.5" text-anchor="middle" fill="#1a1a1a" transform="translate(0 162.70) scale(1 1.08) translate(0 -162.70)">-1</text>
<text stroke="#1a1a1a" stroke-width="0.32" x="22.8" y="191.10" font-size="13.5" text-anchor="middle" fill="#1a1a1a" transform="translate(0 191.10) scale(1 1.08) translate(0 -191.10)">-2</text>
<text stroke="#1a1a1a" stroke-width="0.32" x="22.8" y="219.50" font-size="13.5" text-anchor="middle" fill="#1a1a1a" transform="translate(0 219.50) scale(1 1.08) translate(0 -219.50)">-3</text>
<text stroke="#1a1a1a" stroke-width="0.32" x="54.30" y="262.80" font-size="13.5" fill="#1a1a1a" textLength="19.943" lengthAdjust="spacing"   transform="translate(0 262.80) scale(1 1.08) translate(0 -262.80)">0.2</text>
<text stroke="#1a1a1a" stroke-width="0.32" x="85.80" y="262.80" font-size="13.5" fill="#1a1a1a" textLength="19.693" lengthAdjust="spacing"   transform="translate(0 262.80) scale(1 1.08) translate(0 -262.80)">0.4</text>
<text stroke="#1a1a1a" stroke-width="0.32" x="118.85" y="262.80" font-size="13.5" fill="#1a1a1a" textLength="19.943" lengthAdjust="spacing"   transform="translate(0 262.80) scale(1 1.08) translate(0 -262.80)">0.6</text>
<text stroke="#1a1a1a" stroke-width="0.32" x="150.10" y="262.80" font-size="13.5" fill="#1a1a1a" textLength="19.943" lengthAdjust="spacing"   transform="translate(0 262.80) scale(1 1.08) translate(0 -262.80)">0.8</text>
<text stroke="#1a1a1a" stroke-width="0.32" x="109.1" y="280.6" font-size="14.5" fill="#1a1a1a">f</text>
<text stroke="#1a1a1a" stroke-width="0.2" x="113.8" y="286.6" font-size="9.6" fill="#1a1a1a">ox</text>
<text stroke="#1a1a1a" stroke-width="0.32" x="-0.62" y="0" font-size="14.5" fill="#1a1a1a" textLength="67.502" lengthAdjust="spacing" transform="translate(11.20 159.50) rotate(-90)"  >δ<tspan font-size="9.5" dy="-5.5">56</tspan><tspan dy="5.5">Fe (‰)</tspan></text>
<text stroke="#333" stroke-width="0.2" x="101.42" y="34.00" font-size="10.3" fill="#333" textLength="81.611" lengthAdjust="spacing"  >Rayleigh model</text>
<text stroke="#939393" stroke-width="0.2" x="63.80" y="128.70" font-size="10.8" fill="#939393" textLength="35.451" lengthAdjust="spacing"  >−0.5 to</text>
<text stroke="#939393" stroke-width="0.2" x="63.80" y="139.30" font-size="10.8" fill="#939393" textLength="34.742" lengthAdjust="spacing"  >+0.3‰</text>
<text stroke="#1f1f1f" stroke-width="0.2" x="-0.50" y="0" font-size="11" fill="#1f1f1f" textLength="91.549" lengthAdjust="spacing" transform="translate(74.30 48.60) rotate(21)"  >cumulated Fe(OH)<tspan font-size="6.5" dy="2.5">3</tspan></text>
<text stroke="#7a7a7a" stroke-width="0.2" x="-0.88" y="0" font-size="10.5" fill="#7a7a7a" textLength="36.451" lengthAdjust="spacing" transform="translate(120.70 98.70) rotate(30.4)"  >Fe(OH)<tspan font-size="6.5" dy="2.5">3</tspan></text>
<text stroke="#1f1f1f" stroke-width="0.2" x="-0.62" y="0" font-size="10.0" fill="#1f1f1f" textLength="94.707" lengthAdjust="spacing" transform="translate(49.60 65.10) rotate(40.2)"  >instantaneous Fe(OH)<tspan font-size="6.5" dy="2.5">3</tspan></text>
<text stroke="#707070" stroke-width="0.2" x="-0.88" y="0" font-size="10.5" fill="#707070" textLength="27.961" lengthAdjust="spacing" transform="translate(122.60 173.30) rotate(25)"  >Fe<tspan font-size="6.5" dy="-4">2+</tspan><tspan font-size="6.5" dy="8">aq</tspan></text>
<text stroke="#6e6e6e" stroke-width="0.2" x="-0.62" y="0" font-size="9" fill="#6e6e6e" textLength="52.697" lengthAdjust="spacing" transform="translate(86.50 181.00) rotate(44)"  >residual Fe<tspan font-size="5.5" dy="-3.5">2+</tspan><tspan font-size="5.5" dy="7">aq</tspan></text>
<text stroke="#1a1a1a" stroke-width="0.2" x="206.62" y="34.40" font-size="10.8" fill="#1a1a1a" textLength="23.045" lengthAdjust="spacing"  >0.94</text>
<text stroke="#1a1a1a" stroke-width="0.2" x="241.30" y="26.00" font-size="11.2" fill="#1a1a1a" textLength="19.098" lengthAdjust="spacing"  >−15</text>
<text stroke="#1a1a1a" stroke-width="0.2" x="263.57" y="26.00" font-size="11.2" fill="#1a1a1a" textLength="12.466" lengthAdjust="spacing"  >°C</text>
<text stroke="#1a1a1a" stroke-width="0.2" x="243.47" y="56.60" font-size="11.2" fill="#1a1a1a" textLength="12.482" lengthAdjust="spacing"  >25</text>
<text stroke="#1a1a1a" stroke-width="0.2" x="259.27" y="56.60" font-size="11.2" fill="#1a1a1a" textLength="12.366" lengthAdjust="spacing"  >°C</text>
<text stroke="#8a8a8a" stroke-width="0.2" x="291.90" y="70.40" font-size="10.5" fill="#8a8a8a" textLength="50.677" lengthAdjust="spacing"  >diff. δ<tspan font-size="7" dy="-4">56</tspan><tspan dy="4">Fe</tspan></text>
<text stroke="#8a8a8a" stroke-width="0.2" x="291.90" y="80.70" font-size="10.5" fill="#8a8a8a" textLength="43.636" lengthAdjust="spacing"  >= 0.94‰</text>
<text stroke="#1a1a1a" stroke-width="0.2" x="265.02" y="209.20" font-size="11" fill="#1a1a1a" textLength="76.171" lengthAdjust="spacing"  >syn-Sturtian IF</text>
<text stroke="#1a1a1a" stroke-width="0.2" x="272.75" y="234.80" font-size="11" fill="#1a1a1a" textLength="60.019" lengthAdjust="spacing"  >pre-GOE IF</text>
<text stroke="#1a1a1a" stroke-width="0.32" x="219.35" y="262.60" font-size="13.5" fill="#1a1a1a" textLength="19.543" lengthAdjust="spacing"   transform="translate(0 262.60) scale(1 1.08) translate(0 -262.60)">0.2</text>
<text stroke="#1a1a1a" stroke-width="0.32" x="259.70" y="262.60" font-size="13.5" fill="#1a1a1a" textLength="19.293" lengthAdjust="spacing"   transform="translate(0 262.60) scale(1 1.08) translate(0 -262.60)">0.4</text>
<text stroke="#1a1a1a" stroke-width="0.32" x="299.25" y="262.60" font-size="13.5" fill="#1a1a1a" textLength="19.543" lengthAdjust="spacing"   transform="translate(0 262.60) scale(1 1.08) translate(0 -262.60)">0.6</text>
<text stroke="#1a1a1a" stroke-width="0.32" x="229.88" y="280.60" font-size="14" fill="#1a1a1a" textLength="73.945" lengthAdjust="spacing"   transform="translate(0 280.60) scale(1 1.05) translate(0 -280.60)">Frequency</text>
<text stroke="#1a1a1a" stroke-width="0.32" x="385.1" y="24.85" font-size="13.5" text-anchor="middle" fill="#1a1a1a" transform="translate(0 24.85) scale(1 1.08) translate(0 -24.85)">5</text>
<text stroke="#1a1a1a" stroke-width="0.32" x="385.1" y="96.05" font-size="13.5" text-anchor="middle" fill="#1a1a1a" transform="translate(0 96.05) scale(1 1.08) translate(0 -96.05)">4</text>
<text stroke="#1a1a1a" stroke-width="0.32" x="385.1" y="171.85" font-size="13.5" text-anchor="middle" fill="#1a1a1a" transform="translate(0 171.85) scale(1 1.08) translate(0 -171.85)">3</text>
<text stroke="#1a1a1a" stroke-width="0.32" x="385.1" y="243.55" font-size="13.5" text-anchor="middle" fill="#1a1a1a" transform="translate(0 243.55) scale(1 1.08) translate(0 -243.55)">2</text>
<text stroke="#1a1a1a" stroke-width="0.32" x="420.18" y="263.00" font-size="13.5" fill="#1a1a1a" textLength="20.637" lengthAdjust="spacing"   transform="translate(0 263.00) scale(1 1.08) translate(0 -263.00)">-20</text>
<text stroke="#1a1a1a" stroke-width="0.32" x="451.98" y="263.00" font-size="13.5" fill="#1a1a1a" textLength="20.537" lengthAdjust="spacing"   transform="translate(0 263.00) scale(1 1.08) translate(0 -263.00)">-10</text>
<text stroke="#1a1a1a" stroke-width="0.32" x="490.80" y="263.00" font-size="13.5" fill="#1a1a1a" textLength="7.51" lengthAdjust="spacing"   transform="translate(0 263.00) scale(1 1.08) translate(0 -263.00)">0</text>
<text stroke="#1a1a1a" stroke-width="0.32" x="518.80" y="263.00" font-size="13.5" fill="#1a1a1a" textLength="14.518" lengthAdjust="spacing"   transform="translate(0 263.00) scale(1 1.08) translate(0 -263.00)">10</text>
<text stroke="#1a1a1a" stroke-width="0.32" x="550.77" y="263.00" font-size="13.5" fill="#1a1a1a" textLength="14.943" lengthAdjust="spacing"   transform="translate(0 263.00) scale(1 1.08) translate(0 -263.00)">20</text>
<text stroke="#1a1a1a" stroke-width="0.32" x="582.40" y="263.00" font-size="13.5" fill="#1a1a1a" textLength="14.818" lengthAdjust="spacing"   transform="translate(0 263.00) scale(1 1.08) translate(0 -263.00)">30</text>
<text stroke="#1a1a1a" stroke-width="0.32" x="614.25" y="263.00" font-size="13.5" fill="#1a1a1a" textLength="14.768" lengthAdjust="spacing"   transform="translate(0 263.00) scale(1 1.08) translate(0 -263.00)">40</text>
<text stroke="#1a1a1a" stroke-width="0.32" x="644.98" y="263.00" font-size="13.5" fill="#1a1a1a" textLength="15.343" lengthAdjust="spacing"   transform="translate(0 263.00) scale(1 1.08) translate(0 -263.00)">50</text>
<text stroke="#1a1a1a" stroke-width="0.32" x="519.05" y="280.40" font-size="14.3" fill="#1a1a1a" textLength="41.15" lengthAdjust="spacing"  ><tspan font-style="italic">T</tspan> (°C)</text>
<text stroke="#1a1a1a" stroke-width="0.32" x="-1.00" y="0" font-size="13" fill="#1a1a1a" textLength="166.716" lengthAdjust="spacing" transform="translate(373.30 211.90) rotate(-90)"  >1000lnα (Fe<tspan font-size="8.5" dy="-5">3+</tspan><tspan dy="5">–Fe</tspan><tspan font-size="8.5" dy="-5" dx="2.5">2+</tspan><tspan dy="5">)(‰)</tspan></text>
<text stroke="#1a1a1a" stroke-width="0.2" x="450.82" y="28.40" font-size="10.5" fill="#1a1a1a" textLength="95.181" lengthAdjust="spacing"  >Experimental data</text>
<text stroke="#1a1a1a" stroke-width="0.2" x="451.95" y="44.20" font-size="10.5" fill="#1a1a1a" textLength="91.485" lengthAdjust="spacing"  >Theoretical curve</text>
<text stroke="#1a1a1a" stroke-width="0.2" x="449.25" y="58.70" font-size="10.5" fill="#1a1a1a" textLength="227.266" lengthAdjust="spacing"  >1000lnα = 0.2508×10<tspan font-size="7" dy="-4">6</tspan><tspan dy="4">/(</tspan><tspan font-style="italic">T</tspan>+273.15)<tspan font-size="7" dy="-4">2</tspan><tspan dy="4">+0.1435</tspan></text>
<text stroke="#4a62b8" stroke-width="0.2" x="480.50" y="88.20" font-size="10.5" fill="#4a62b8" textLength="70.006" lengthAdjust="spacing"  >diff. T = 40 °C</text>
<text stroke="#8a8a8a" stroke-width="0.2" x="-0.50" y="0" font-size="11" fill="#8a8a8a" textLength="45.623" lengthAdjust="spacing" transform="translate(428.00 156.00) rotate(-90)"  >diff. δ<tspan font-size="7" dy="-4">56</tspan><tspan dy="4">Fe</tspan></text>
<text stroke="#8a8a8a" stroke-width="0.2" x="-0.50" y="0" font-size="11" fill="#8a8a8a" textLength="38.266" lengthAdjust="spacing" transform="translate(437.80 154.80) rotate(-90)"  >= 0.94‰</text>
<text stroke="#4a5fb0" stroke-width="0.2" x="456.65" y="193.20" font-size="10.3" fill="#4a5fb0" textLength="76.691" lengthAdjust="spacing"  >syn-Sturtian IF</text>
<text stroke="#4a5fb0" stroke-width="0.2" x="452.20" y="206.40" font-size="10.3" fill="#4a5fb0" textLength="86.375" lengthAdjust="spacing"  >−15.10 ± 6.48 °C</text>
<text stroke="#c8909a" stroke-width="0.2" x="581.38" y="202.80" font-size="10.3" fill="#c8909a" textLength="59.971" lengthAdjust="spacing"  >pre-GOE IF</text>
<text stroke="#c8909a" stroke-width="0.2" x="580.10" y="216.00" font-size="10.3" fill="#c8909a" textLength="53.355" lengthAdjust="spacing"  >25 ± 10 °C</text>
</svg></body></html>
